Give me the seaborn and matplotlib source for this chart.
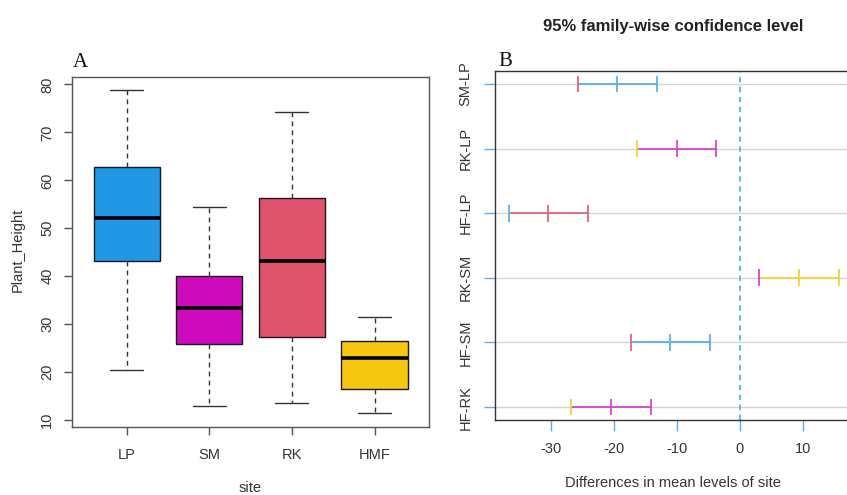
import matplotlib
matplotlib.use("Agg")
import matplotlib.pyplot as plt
import seaborn as sns
import pandas as pd
import numpy as np

# ---- Panel A data (five-number summaries) ----
sites = ["LP", "SM", "RK", "HMF"]
lp_vals = [20.4, 43.2, 52.1, 62.8, 78.8]
sm_vals = [13.0, 25.8, 33.3, 40.1, 54.5]
rk_vals = [13.6, 27.35, 43.2, 56.3, 74.2]
hmf_vals = [11.5, 16.5, 22.9, 26.4, 31.4]
box_colors = ["#2297E6", "#CD0BBC", "#DF536B", "#F5C710"]

# ---- Panel B data (Tukey HSD intervals) ----
comparisons = ["SM-LP", "RK-LP", "HF-LP", "RK-SM", "HF-SM", "HF-RK"]
diff = [-19.5, -10.0, -30.5, 9.4, -11.1, -20.5]
lwr = [-25.7, -16.3, -36.7, 3.1, -17.3, -26.8]
upr = [-13.1, -3.8, -24.2, 15.7, -4.8, -14.2]
line_cols = ["#5AB0E6", "#D545CF", "#E0657C", "#F2D23A", "#5AB0E6", "#D545CF"]
lwr_cols = ["#E0657C", "#F2D23A", "#5AB0E6", "#D545CF", "#E0657C", "#F2D23A"]
x_ticks_b = [-30, -20, -10, 0, 10]

sns.set_style("white")
plt.rcParams["font.family"] = ["Liberation Sans", "DejaVu Sans"]

W, H = 847, 495
fig = plt.figure(figsize=(W / 100, H / 100), dpi=100)

# ================= Panel A =================
axA = fig.add_axes([72.3 / W, 1 - 426.7 / H, (429 - 72.3) / W, (426.7 - 77.3) / H])
df = pd.DataFrame({
    "site": np.repeat(sites, 5),
    "Plant_Height": lp_vals + sm_vals + rk_vals + hmf_vals,
})
sns.boxplot(
    data=df, x="site", y="Plant_Height", hue="site", order=sites,
    palette=dict(zip(sites, box_colors)), saturation=1, width=0.8,
    whis=1.5, linecolor="#1a1a1a", linewidth=1.0, legend=False, ax=axA,
    medianprops=dict(color="black", linewidth=2.6),
    whiskerprops=dict(linestyle=(0, (3.5, 3)), color="#333333", linewidth=1.0),
    capprops=dict(color="#333333", linewidth=1.0),
    showfliers=False,
)
axA.set_xlim(-0.66, 3.66)
axA.set_ylim(8.6, 81.5)
axA.set_yticks([10, 20, 30, 40, 50, 60, 70, 80])
for s in axA.spines.values():
    s.set_color("#555555")
    s.set_linewidth(1.0)
axA.tick_params(axis="both", which="both", length=6, width=1, color="#555555",
                labelsize=10.5, labelcolor="#333333", direction="out")
axA.tick_params(axis="both", left=True, bottom=True)
plt.setp(axA.get_yticklabels(), rotation=90, va="center")
axA.tick_params(axis="x", pad=9)
axA.tick_params(axis="y", pad=7)
axA.set_xlabel("")
axA.set_ylabel("")
fig.text(18 / W, 1 - 250 / H, "Plant_Height", rotation=90, ha="center", va="center",
         fontsize=10.5, color="#333333")
fig.text(250 / W, 1 - 488 / H, "site", ha="center", va="center",
         fontsize=10.5, color="#333333")
fig.text(73 / W, 1 - 63 / H, "A", ha="left", va="center", fontsize=15,
         family=["Liberation Serif", "DejaVu Serif"], color="#111111")

# ================= Panel B =================
axB = fig.add_axes([495 / W, 1 - 420 / H, (852 - 495) / W, (420 - 71) / H])
n = len(comparisons)
yvals = np.arange(n, 0, -1)
for i in range(n):
    axB.axhline(yvals[i], color="#d4d4d4", linewidth=1.0, zorder=1)
axB.axvline(0, color="#5AB0E6", linestyle=(0, (3, 2.5)), linewidth=1.3, zorder=2)
th = 0.13
for i in range(n):
    y = yvals[i]
    axB.hlines(y, lwr[i], upr[i], color=line_cols[i], linewidth=1.3, zorder=3)
    axB.vlines([diff[i], upr[i]], y - th, y + th, color=line_cols[i], linewidth=1.3, zorder=3)
    axB.vlines(lwr[i], y - th, y + th, color=lwr_cols[i], linewidth=1.3, zorder=4)

axB.set_xlim(-38.9, 17.8)
axB.set_ylim(0.8, n + 0.2)
axB.set_yticks(yvals)
axB.set_yticklabels(comparisons, rotation=90, va="center")
axB.set_xticks(x_ticks_b)
axB.set_xticklabels([str(v) for v in x_ticks_b])
for k in ["left", "top", "bottom"]:
    axB.spines[k].set_color("#333333")
    axB.spines[k].set_linewidth(1.0)
axB.spines["right"].set_visible(False)
axB.tick_params(axis="both", length=8, width=1, color="#5AB0E6", direction="out",
                labelsize=10.5, labelcolor="#333333", left=True, bottom=True)
axB.tick_params(axis="x", pad=8)
axB.tick_params(axis="y", pad=8)
axB.set_xlabel("")
axB.set_ylabel("")
fig.text(673 / W, 1 - 483 / H, "Differences in mean levels of site", ha="center",
         va="center", fontsize=10.5, color="#333333")
fig.text(673 / W, 1 - 26 / H, "95% family-wise confidence level", ha="center",
         va="center", fontsize=12, fontweight="bold", color="#222222")
fig.text(498 / W, 1 - 62 / H, "B", ha="left", va="center", fontsize=15,
         family=["Liberation Serif", "DejaVu Serif"], color="#111111")

fig.savefig("out.png", dpi=100)
